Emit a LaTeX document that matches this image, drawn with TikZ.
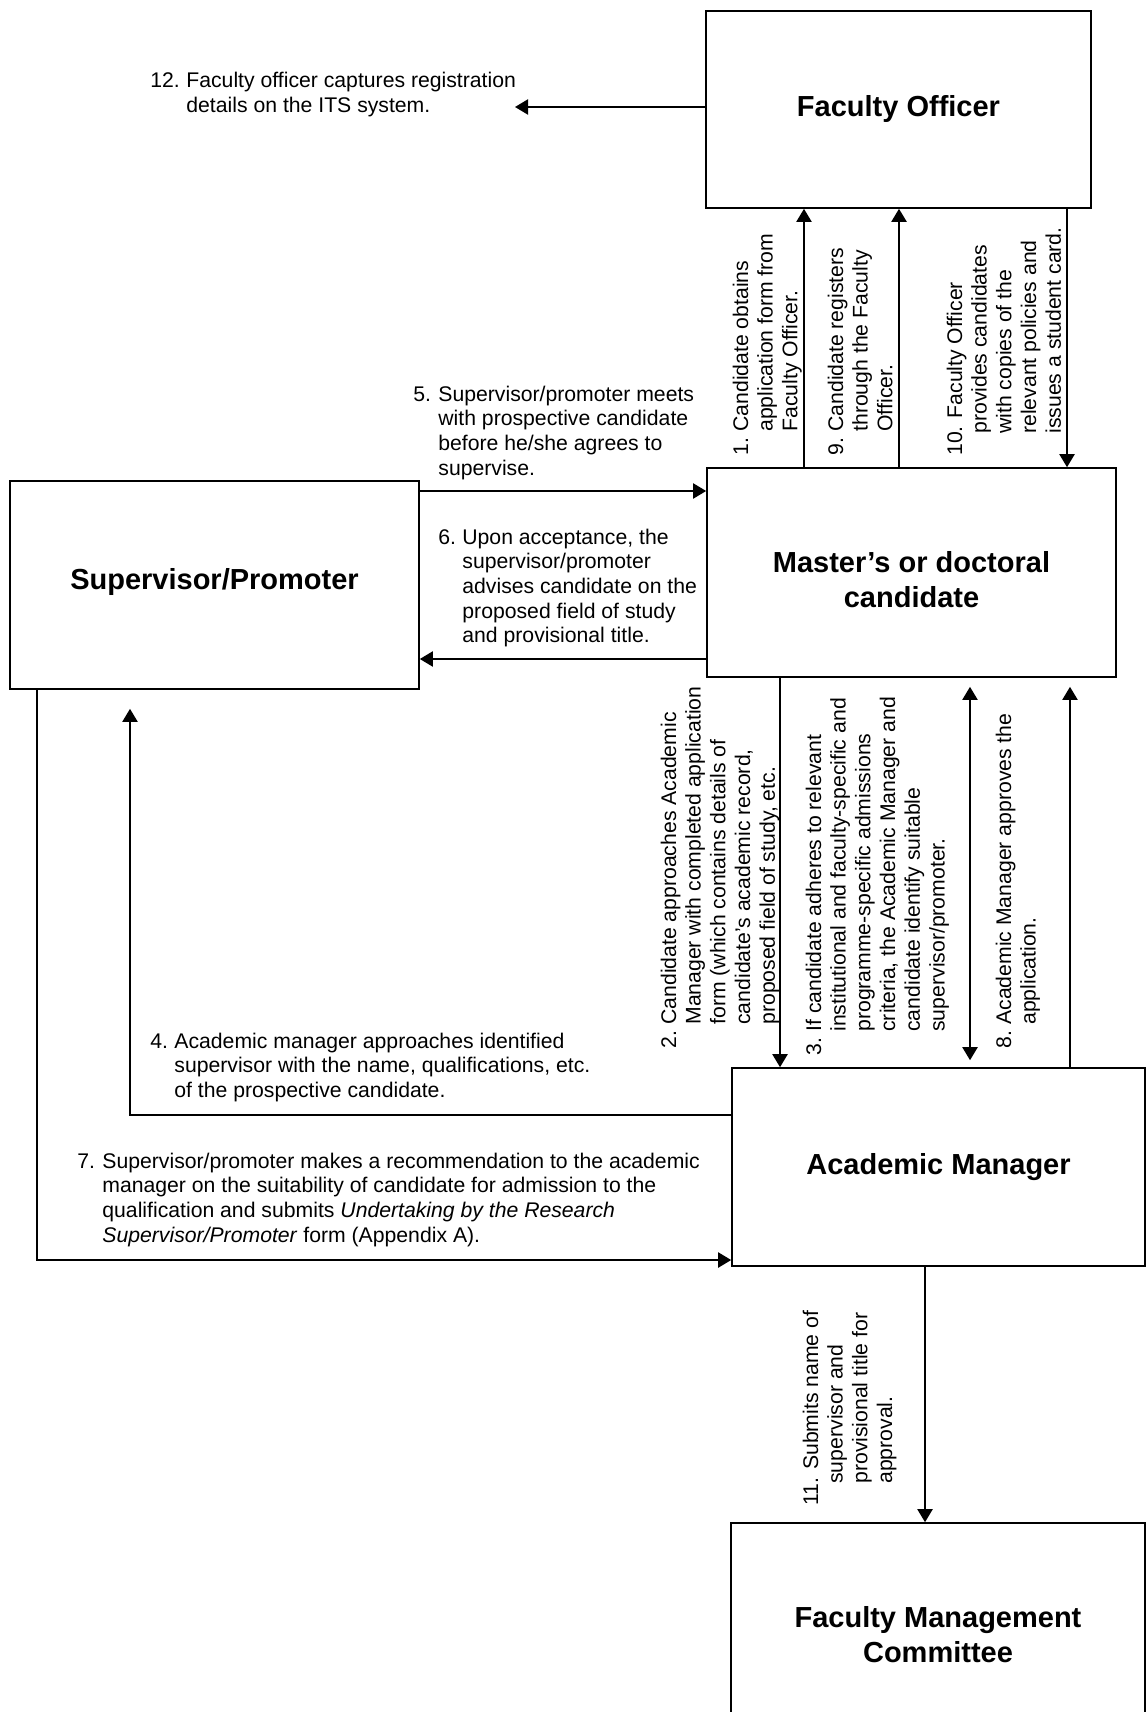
\documentclass[tikz,border=0pt]{standalone}
\usepackage{fontspec}
\setmainfont{Liberation Sans}
\usetikzlibrary{arrows.meta}
\newcommand{\labfont}{\fontsize{10.6}{12.35}\selectfont}
\newcommand{\headfont}{\fontsize{14.5}{17.5}\selectfont\bfseries}

\begin{document}
\begin{tikzpicture}[x=0.5pt,y=-0.5pt,
  >={Triangle[length=6.5pt,width=7.5pt]},
  box/.style={draw,line width=0.8pt,inner sep=0pt,align=center,font=\headfont},
  lbl/.style={inner sep=0pt,anchor=base west,font=\labfont},
  flow/.style={line width=1pt,->}]
  \useasboundingbox (0,0) rectangle (1146,1712);
  \clip (0,0) rectangle (1146,1712);

  % boxes
  \node[box,minimum width=192.5pt,minimum height=98.5pt] (fo) at (898.5,109.5) {Faculty Officer};
  \node[box,minimum width=204.5pt,minimum height=104.5pt] (cand) at (911.5,572.5) {\rule{0pt}{18pt}Master’s or doctoral\\candidate};
  \node[box,minimum width=204.5pt,minimum height=104pt] (sup) at (214.5,585) {Supervisor/Promoter\rule[-6.5pt]{0pt}{0pt}};
  \node[box,minimum width=206.5pt,minimum height=99pt] (am) at (938.5,1167) {Academic Manager};
  \node[box,minimum width=207pt,minimum height=112pt] (fmc) at (938,1635) {Faculty Management\\Committee};

  % where the connectors run
  \coordinate (x1) at (804,0);
  \coordinate (x9) at (899,0);
  \coordinate (x10) at (1067,0);
  \coordinate (x2) at (780,0);
  \coordinate (x3) at (970,0);
  \coordinate (x8) at (1070,0);
  \coordinate (x11) at (925,0);
  \coordinate (x4) at (130,0);
  \coordinate (x7) at (37,0);
  \coordinate (y5) at (0,491);
  \coordinate (y6) at (0,659);
  \coordinate (y4) at (0,1115);
  \coordinate (y7) at (0,1260);
  \coordinate (its) at (515,107);

  % connectors
  \draw[flow] (fo.west |- its) -- (its);
  \draw[flow] (x1 |- cand.north) -- (x1 |- fo.south);
  \draw[flow] (x9 |- cand.north) -- (x9 |- fo.south);
  \draw[flow] (x10 |- fo.south) -- (x10 |- cand.north);
  \draw[flow] (sup.east |- y5) -- (cand.west |- y5);
  \draw[flow] (cand.west |- y6) -- (sup.east |- y6);
  \draw[flow] (x2 |- cand.south) -- (x2 |- am.north);
  \draw[flow,<->,shorten <=4.5pt,shorten >=3.5pt] (x3 |- cand.south) -- (x3 |- am.north);
  \draw[flow,shorten >=4.5pt] (x8 |- am.north) -- (x8 |- cand.south);
  \draw[flow,shorten >=9.5pt] (am.west |- y4) -- (x4 |- y4) -- (x4 |- sup.south);
  \draw[flow] (x7 |- sup.south) -- (x7 |- y7) -- (am.west |- y7);
  \draw[flow] (x11 |- am.south) -- (x11 |- fmc.north);

  % step texts
  \node[lbl] (t12) at (150,88) {\begin{tabular}[t]{@{}p{18pt}@{}l@{}}12.&Faculty officer captures registration\\&details on the ITS system.\end{tabular}};
  \node[lbl] (t5) at (413,401) {\begin{tabular}[t]{@{}p{12.5pt}@{}l@{}}5.&Supervisor/promoter meets\\&with prospective candidate\\&before he/she agrees to\\&supervise.\end{tabular}};
  \node[lbl] (t6) at (438,544) {\begin{tabular}[t]{@{}p{12pt}@{}l@{}}6.&Upon acceptance, the\\&supervisor/promoter\\&advises candidate on the\\&proposed field of study\\&and provisional title.\end{tabular}};
  \node[lbl] (t4) at (150,1048) {\begin{tabular}[t]{@{}p{12pt}@{}l@{}}4.&Academic manager approaches identified\\&supervisor with the name, qualifications, etc.\\&of the prospective candidate.\end{tabular}};
  \node[lbl] (t7) at (77,1168) {\begin{tabular}[t]{@{}p{12.5pt}@{}l@{}}7.&Supervisor/promoter makes a recommendation to the academic\\&manager on the suitability of candidate for admission to the\\&qualification and submits \textit{Undertaking by the Research}\\&\textit{Supervisor/Promoter} form (Appendix A).\end{tabular}};

  \node[lbl,rotate=90] (t1) at (748,456) {\begin{tabular}[t]{@{}p{12pt}@{}l@{}}1.&Candidate obtains\\&application form from\\&Faculty Officer.\end{tabular}};
  \node[lbl,rotate=90] (t9) at (843,456) {\begin{tabular}[t]{@{}p{12pt}@{}l@{}}9.&Candidate registers\\&through the Faculty\\&Officer.\end{tabular}};
  \node[lbl,rotate=90] (t10) at (962,456) {\begin{tabular}[t]{@{}p{11pt}@{}l@{}}\multicolumn{2}{@{}l@{}}{10. Faculty Officer}\\&provides candidates\\&with copies of the\\&relevant policies and\\&issues a student card.\end{tabular}};
  \node[lbl,rotate=90] (t2) at (676,1049) {\begin{tabular}[t]{@{}p{12pt}@{}l@{}}2.&Candidate approaches Academic\\&Manager with completed application\\&form (which contains details of\\&candidate’s academic record,\\&proposed field of study, etc.\end{tabular}};
  \node[lbl,rotate=90] (t3) at (821,1056) {\begin{tabular}[t]{@{}p{12pt}@{}l@{}}3.&If candidate adheres to relevant\\&institutional and faculty-specific and\\&programme-specific admissions\\&criteria, the Academic Manager and\\&candidate identify suitable\\&supervisor/promoter.\end{tabular}};
  \node[lbl,rotate=90] (t8) at (1011,1049) {\begin{tabular}[t]{@{}p{12pt}@{}l@{}}8.&Academic Manager approves the\\&application.\end{tabular}};
  \node[lbl,rotate=90] (t11) at (818,1506) {\begin{tabular}[t]{@{}p{11pt}@{}l@{}}\multicolumn{2}{@{}l@{}}{11. Submits name of}\\&supervisor and\\&provisional title for\\&approval.\end{tabular}};
\end{tikzpicture}
\end{document}
